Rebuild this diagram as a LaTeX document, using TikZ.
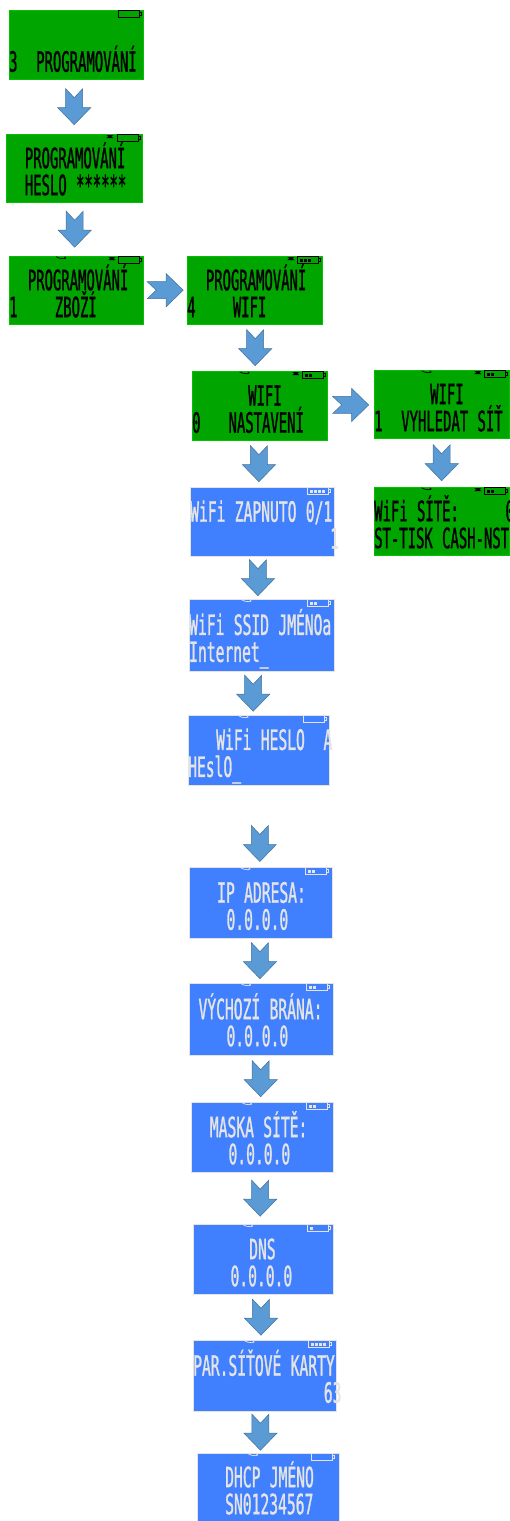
\documentclass[tikz,border=0pt]{standalone}
\usepackage{fontspec}
\newfontfamily\lcdgreenfont[FakeStretch=.4966,FakeBold=1]{DejaVu Sans Mono}
\newfontfamily\lcdbluefont[FakeStretch=.523,FakeBold=1]{DejaVu Sans Mono}
\usetikzlibrary{calc}
\definecolor{lcdgreen}{HTML}{00A500}
\definecolor{lcdblue}{HTML}{4080FF}
\definecolor{lcdlight}{HTML}{E4E4E4}
\definecolor{arrowfill}{HTML}{5B9BD5}
\definecolor{arrowedge}{HTML}{41719C}
\newcommand{\lcdsetup}{\fontsize{28}{27}\selectfont\lineskiplimit=-100pt \exhyphenpenalty=10000 \hyphenpenalty=10000 }
\tikzset{
  screen/.style={anchor=north west,rectangle,inner sep=0pt,align=left},
  greenscreen/.style={screen,fill=lcdgreen,draw=green!30!lcdgreen,line width=.4pt,text=black,
    font=\lcdgreenfont\lcdsetup},
  bluescreen/.style={screen,fill=lcdblue,draw=lcdlight,line width=.4pt,text=lcdlight,
    font=\lcdbluefont\lcdsetup},
  flowdown/.style={draw=arrowedge,fill=arrowfill,line width=.5pt,
    to path={($(\tikztostart)!.5!(\tikztotarget)$) ++(#1,0) ++(-8.5,-18) -- ++(8.5,9) -- ++(8.5,-9)
      -- ++(0,19) -- ++(8,0) -- ++(-16.5,17) -- ++(-16.5,-17) -- ++(8,0) -- cycle}},
  flowdown/.default=0,
  flowright/.style={draw=arrowedge,fill=arrowfill,line width=.5pt,
    to path={($(\tikztostart)!.5!(\tikztotarget)$) ++(-18,-8.5) -- ++(19,0) -- ++(0,-8) -- ++(17,16.5)
      -- ++(-17,16.5) -- ++(0,-8) -- ++(-19,0) -- ++(9,-8.5) -- cycle}},
}
% the two rows of a screen, first baseline on the middle of the node
\newcommand{\lcdrows}[2]{\rule{0pt}{33pt}#1\\\rule[-6pt]{0pt}{6pt}#2}
% battery: node, offset of its left end from the right corner, number of cells
\newcommand{\lcdbattery}[4]{
  \draw[#4,line width=.6pt] ([xshift=#2pt]#1.north east) ++(0,.5) rectangle ++(21,7)
    ++(0,-5) -- ++(1.5,0) -- ++(0,3) -- ++(-1.5,0);
  \foreach \c in {1,...,#3}{
    \ifnum#3>0 \fill[#4] ([xshift=#2pt]#1.north east) ++(\c*4-1.5,2.5) rectangle ++(3,3); \fi
  }
}
\newcommand{\lcdlink}[2]{
  \fill[black] ([xshift=#2pt]#1.north east) ++(0,1) -- ++(7,0) -- ++(-2,1.5) -- ++(2,1.5) -- ++(-7,0) -- ++(2,-1.5) -- cycle;
}
\newcommand{\lcdsignal}[3]{
  \draw[#3,line width=.7pt] ([xshift=#2pt]#1.north) ++(-4,.8) .. controls ++(3,2.5) and ++(5,2.5) .. ++(8,0);
}
\begin{document}
\begin{tikzpicture}[x=1pt,y=-1pt]
  \useasboundingbox (0,0) rectangle (510,1521);
  % green screens
  \node[greenscreen,text width=134pt,minimum height=69pt] (prog) at (9,10) {\lcdrows{}{3~~PROGRAMOVÁNÍ}};
  \node[greenscreen,text width=136pt,minimum height=68pt] (heslo) at (6,134) {\lcdrows{~~PROGRAMOVÁNÍ}{~~HESLO~******}};
  \node[greenscreen,text width=134pt,minimum height=68pt] (zbozi) at (9,256) {\lcdrows{~~PROGRAMOVÁNÍ}{1~~~~ZBOŽÍ}};
  \node[greenscreen,text width=135pt,minimum height=68pt] (wifi) at (187,256) {\lcdrows{~~PROGRAMOVÁNÍ}{4~~~~WIFI}};
  \node[greenscreen,text width=135pt,minimum height=69pt] (nastav) at (192,371) {\lcdrows{~~~~~~WIFI}{0~~~NASTAVENÍ}};
  \node[greenscreen,text width=135pt,minimum height=68pt] (vyhled) at (374,370) {\lcdrows{~~~~~~WIFI}{1~~VYHLEDAT~SÍŤ}};
  \node[greenscreen,text width=135pt,minimum height=68pt] (site) at (374,487) {\lcdrows{WiFi~SÍTĚ:~~~~~0}{ST-TISK~CASH-NST}};
  % blue screens
  \node[bluescreen,text width=144pt,minimum height=69pt] (zapnuto) at (190,487) {\lcdrows{WiFi~ZAPNUTO~0/1}{~~~~~~~~~~~~~~~1}};
  \node[bluescreen,text width=145pt,minimum height=72pt] (ssid) at (189,599) {\lcdrows{WiFi~SSID~JMÉNOa}{Internet\_}};
  \node[bluescreen,text width=141pt,minimum height=70pt] (hesloa) at (188,715) {\lcdrows{~~~WiFi~HESLO~~A}{HEslO\_}};
  \node[bluescreen,text width=143pt,minimum height=71pt] (ip) at (189,867) {\lcdrows{~~~IP~ADRESA:}{~~~~0.0.0.0}};
  \node[bluescreen,text width=144pt,minimum height=72pt] (brana) at (189,983) {\lcdrows{~VÝCHOZÍ~BRÁNA:}{~~~~0.0.0.0}};
  \node[bluescreen,text width=142pt,minimum height=70pt] (maska) at (191,1102) {\lcdrows{~~MASKA~SÍTĚ:}{~~~~0.0.0.0}};
  \node[bluescreen,text width=140pt,minimum height=70pt] (dns) at (193,1224) {\lcdrows{~~~~~~DNS}{~~~~0.0.0.0}};
  \node[bluescreen,text width=143pt,minimum height=71pt] (karty) at (193,1340) {\lcdrows{PAR.SÍŤOVÉ~KARTY}{~~~~~~~~~~~~~~63}};
  \node[bluescreen,text width=142pt,minimum height=68pt] (dhcp) at (197,1453) {\lcdrows{~~~DHCP~JMÉNO}{~~~SN01234567}};
  \coordinate (gap) at (261,820);
  % arrows
  \draw[flowdown=-1] (prog.south) to (heslo.north);
  \draw[flowdown=-.5] (heslo.south) to (zbozi.north);
  \draw[flowright] (zbozi.east) to (wifi.west);
  \draw[flowdown=-2] (wifi.south) to (nastav.north);
  \draw[flowright] (nastav.east) to (vyhled.west);
  \draw[flowdown] (vyhled.south) to (site.north);
  \draw[flowdown=-2] (nastav.south) to (zapnuto.north);
  \draw[flowdown=-4] (zapnuto.south) to (ssid.north);
  \draw[flowdown=-7] (ssid.south) to (hesloa.north);
  \draw[flowdown=-1] (gap) to (ip.north);
  \draw[flowdown=-1] (ip.south) to (brana.north);
  \draw[flowdown=-1] (brana.south) to (maska.north);
  \draw[flowdown=-2.5] (maska.south) to (dns.north);
  \draw[flowdown=-3] (dns.south) to (karty.north);
  \draw[flowdown=-6] (karty.south) to (dhcp.north);
  % status icons
  \lcdbattery{prog}{-25}{0}{black}
  \lcdlink{heslo}{-36} \lcdbattery{heslo}{-25}{0}{black} \lcdsignal{zbozi}{-16}{black}
  \lcdlink{zbozi}{-35} \lcdbattery{zbozi}{-25}{0}{black}
  \lcdlink{wifi}{-35} \lcdbattery{wifi}{-25}{3}{black}
  \lcdsignal{nastav}{-16}{black} \lcdlink{nastav}{-35} \lcdbattery{nastav}{-25}{2}{black}
  \lcdsignal{vyhled}{-16}{black} \lcdlink{vyhled}{-35} \lcdbattery{vyhled}{-25}{2}{black}
  \lcdsignal{site}{-16}{black} \lcdlink{site}{-35} \lcdbattery{site}{-25}{2}{black}
  \lcdbattery{zapnuto}{-27}{4}{lcdlight}
  \lcdsignal{ssid}{-16}{lcdlight} \lcdbattery{ssid}{-27}{2}{lcdlight}
  \lcdsignal{hesloa}{-16}{lcdlight} \lcdbattery{hesloa}{-26}{0}{lcdlight}
  \lcdsignal{ip}{-16}{lcdlight} \lcdbattery{ip}{-27}{2}{lcdlight}
  \lcdsignal{brana}{-16}{lcdlight} \lcdbattery{brana}{-27}{2}{lcdlight}
  \lcdsignal{maska}{-16}{lcdlight} \lcdbattery{maska}{-27}{2}{lcdlight}
  \lcdsignal{dns}{-16}{lcdlight} \lcdbattery{dns}{-26}{1}{lcdlight}
  \lcdsignal{karty}{-16}{lcdlight} \lcdbattery{karty}{-28}{4}{lcdlight}
  \lcdsignal{dhcp}{-16}{lcdlight} \lcdbattery{dhcp}{-28}{0}{lcdlight}
\end{tikzpicture}
\end{document}
